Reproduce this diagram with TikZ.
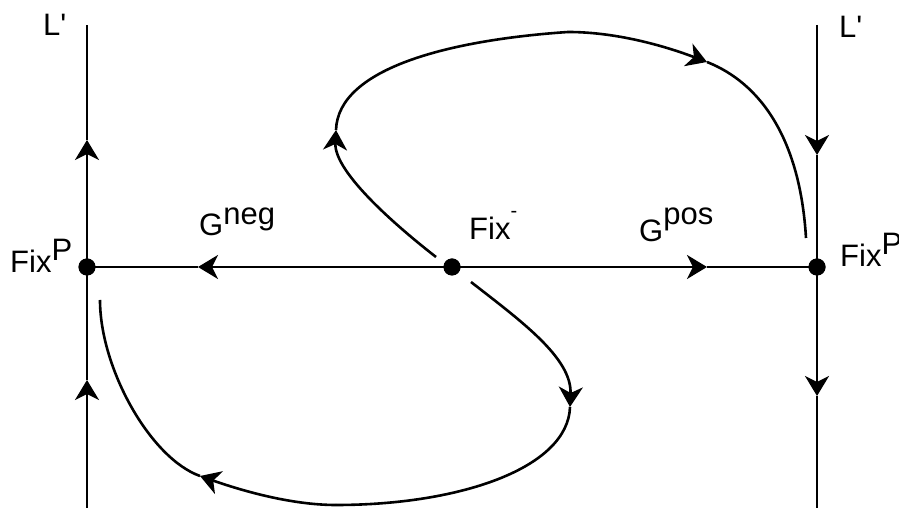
\documentclass[tikz,border=0pt]{standalone}
\usepackage{fontspec}
\newfontfamily\arialf{Liberation Sans}
\usetikzlibrary{arrows.meta}
\begin{document}
\begin{tikzpicture}[x=1pt,y=1pt,
  line/.style={line width=2.6pt,line join=round},
  arr/.style={-{Stealth[length=20pt,width=24pt,inset=6pt]}},
  dot/.style={circle,fill=black,inner sep=0pt,minimum size=17pt},
  lbl/.style={inner sep=0pt,anchor=base west,font=\arialf\fontsize{31}{36}\selectfont}]
\useasboundingbox (0,0) rectangle (899,508);
% fixed points
\node[dot] (FixL) at (87,241) {};
\node[dot] (FixM) at (452,241) {};
\node[dot] (FixR) at (817,241) {};
% line ends and arrow tips
\coordinate (Lbot) at (87,0);
\coordinate (L1) at (87,128);
\coordinate (L2) at (87,368);
\coordinate (Ltop) at (87,483);
\coordinate (Rtop) at (817,483);
\coordinate (R1) at (817,353);
\coordinate (R2) at (817,112);
\coordinate (Rbot) at (817,0);
\coordinate (H1) at (198,241);
\coordinate (H2) at (707,241);
% verticals
\draw[line,arr] (Lbot) -- (L1);
\draw[line,arr] (L1) -- (L2);
\draw[line] (L2) -- (Ltop);
\draw[line,arr] (Rtop) -- (R1);
\draw[line,arr] (R1) -- (R2);
\draw[line] (R2) -- (Rbot);
% horizontal
\draw[line,arr] (FixM.center) -- (H1);
\draw[line] (H1) -- (FixL.center);
\draw[line,arr] (FixM.center) -- (H2);
\draw[line] (H2) -- (FixR.center);
% top orbit
\coordinate (T0) at (436,251);
\coordinate (T1) at (336,378);
\coordinate (T2) at (568,476);
\coordinate (T3) at (707,446);
\coordinate (T4) at (806,270);
\draw[line,arr] (T0) .. controls (400,279) and (334,335) .. (T1);
\draw[line] (T1) .. controls (338,440) and (450,468) .. (T2);
\draw[line,arr] (T2) .. controls (620,476) and (670,460) .. (T3);
\draw[line] (T3) .. controls (760,425) and (800,370) .. (T4);
% bottom orbit
\coordinate (B0) at (471,226);
\coordinate (B1) at (570,101);
\coordinate (B2) at (336,3);
\coordinate (B3) at (200,32);
\coordinate (B4) at (100,208);
\draw[line,arr] (B0) .. controls (521,187) and (572,150) .. (B1);
\draw[line] (B1) .. controls (568,40) and (460,3) .. (B2);
\draw[line,arr] (B2) .. controls (290,3) and (240,18) .. (B3);
\draw[line] (B3) .. controls (150,50) and (100,140) .. (B4);
% dots on top
\node[dot] at (FixL) {};
\node[dot] at (FixM) {};
\node[dot] at (FixR) {};
% labels
\node[lbl] (tLl) at (43,472) {L'};
\node[lbl] (tLr) at (839,470) {L'};
\node[lbl] (tFl) at (10,235) {Fix\raisebox{12pt}{P}};
\node[lbl] (tFr) at (840,241) {Fix\raisebox{12pt}{P}};
\node[lbl] (tGn) at (199,272) {G\raisebox{11pt}{neg}};
\node[lbl] (tFm) at (469,268) {Fix\raisebox{22pt}{\fontsize{20}{24}\selectfont -}};
\node[lbl] (tGp) at (639,266) {G\raisebox{17pt}{pos}};
\end{tikzpicture}
\end{document}
